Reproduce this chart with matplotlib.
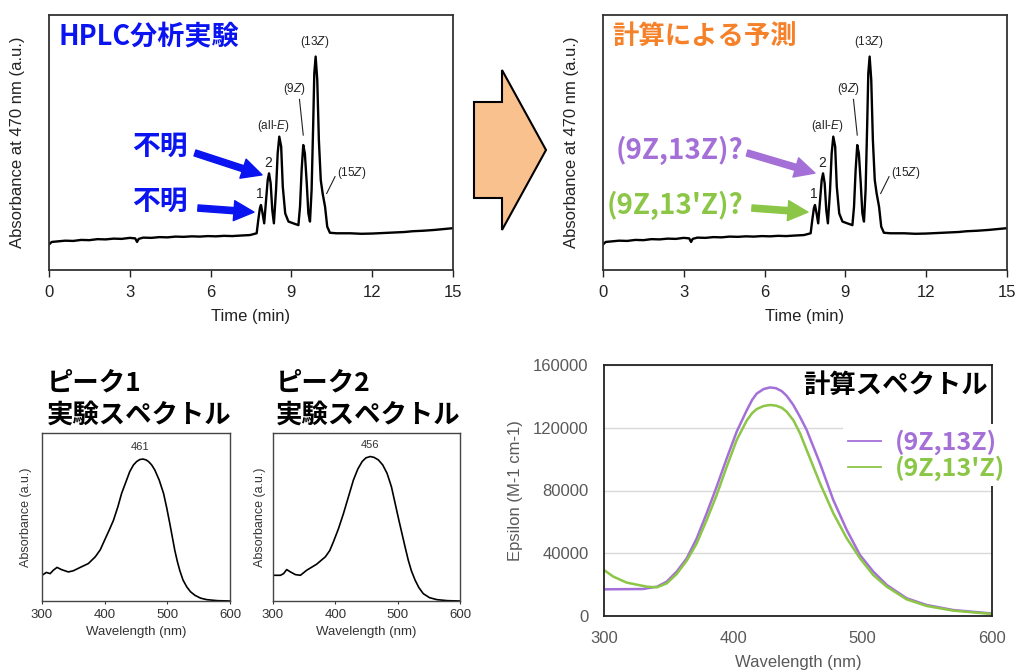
import matplotlib
matplotlib.use("Agg")
import matplotlib.pyplot as plt
from matplotlib.patches import Polygon
from matplotlib.lines import Line2D

plt.rcParams['font.family'] = ['Liberation Sans', 'Noto Sans CJK JP']
plt.rcParams['mathtext.fontset'] = 'custom'
plt.rcParams['mathtext.it'] = 'Liberation Sans:italic'
plt.rcParams['mathtext.rm'] = 'Liberation Sans'

W, H = 1017, 672
JP = ['Noto Sans CJK JP', 'DejaVu Sans']

# ---- HPLC chromatogram (a.u. 0..1 of the axis height) ----
chrom_t = [0.00, 0.10, 0.30, 0.60, 0.90, 1.20, 1.50, 1.80, 2.10, 2.40, 2.70, 3.00,
           3.20, 3.27, 3.33, 3.50, 3.80, 4.10, 4.40, 4.70, 5.00, 5.30, 5.60, 5.90,
           6.20, 6.50, 6.80, 7.10, 7.46, 7.71, 7.77, 7.83, 7.87, 7.93, 7.99,
           8.06, 8.12, 8.17, 8.23, 8.29, 8.35, 8.43, 8.49, 8.55, 8.62, 8.68, 8.77,
           8.89, 9.07, 9.26, 9.32, 9.38, 9.44, 9.50, 9.57, 9.63, 9.69, 9.75, 9.81,
           9.85, 9.90, 9.96, 10.02, 10.09, 10.16, 10.25, 10.33, 10.43, 10.68, 11.18,
           11.6, 12.0, 12.4, 12.8, 13.2, 13.5, 13.9, 14.3, 14.6, 15.0]
chrom_y = [0.100, 0.110, 0.112, 0.115, 0.114, 0.118, 0.117, 0.121, 0.120, 0.123, 0.122, 0.126,
           0.124, 0.110, 0.122, 0.127, 0.126, 0.129, 0.128, 0.131, 0.130, 0.132, 0.131, 0.133,
           0.132, 0.134, 0.133, 0.135, 0.137, 0.144, 0.196, 0.242, 0.255, 0.222, 0.183,
           0.275, 0.353, 0.379, 0.340, 0.235, 0.183, 0.314, 0.457, 0.523, 0.484, 0.327, 0.222,
           0.190, 0.183, 0.176, 0.248, 0.392, 0.490, 0.457, 0.340, 0.222, 0.190, 0.314, 0.575,
           0.771, 0.837, 0.745, 0.510, 0.353, 0.300, 0.248, 0.170, 0.146, 0.144, 0.144,
           0.142, 0.143, 0.145, 0.147, 0.149, 0.152, 0.154, 0.157, 0.160, 0.164]

# peak tags: (text, t, y)
peak_tags = [("(all-$\\it{E}$)", 8.33, 0.565), ("(9$\\it{Z}$)", 9.13, 0.709),
             ("(13$\\it{Z}$)", 9.88, 0.895), ("(15$\\it{Z}$)", 11.25, 0.38)]
peak_nums = [("1", 7.83, 0.298), ("2", 8.14, 0.418)]

# ---- experimental spectra of peaks 1 and 2 ----
spec1_wl = [300, 307, 313, 318, 324, 331, 342, 350, 361, 374, 385, 393, 400, 407, 414, 421,
            427, 434, 440, 446, 451, 456, 461, 466, 470, 475, 480, 487, 494, 499, 504, 508,
            512, 516, 520, 525, 531, 537, 544, 553, 563, 580, 600]
spec1_ab = [0.153, 0.170, 0.163, 0.183, 0.200, 0.187, 0.173, 0.180, 0.200, 0.223, 0.263,
            0.305, 0.363, 0.420, 0.480, 0.560, 0.640, 0.710, 0.770, 0.810, 0.830, 0.842,
            0.845, 0.840, 0.830, 0.810, 0.780, 0.720, 0.640, 0.555, 0.460, 0.380, 0.300,
            0.235, 0.180, 0.125, 0.084, 0.055, 0.034, 0.017, 0.008, 0.002, 0.000]
spec2_wl = [300, 312, 317, 322, 328, 336, 344, 354, 370, 384, 391, 397, 405, 413, 421, 429,
            436, 443, 449, 456, 462, 469, 476, 483, 490, 496, 502, 507, 512, 517, 522, 528,
            534, 541, 551, 563, 580, 600]
spec2_ab = [0.153, 0.153, 0.163, 0.187, 0.173, 0.157, 0.153, 0.183, 0.219, 0.263, 0.300,
            0.353, 0.430, 0.520, 0.620, 0.720, 0.785, 0.830, 0.852, 0.860, 0.855, 0.840,
            0.810, 0.760, 0.680, 0.580, 0.480, 0.400, 0.320, 0.243, 0.180, 0.124, 0.080,
            0.044, 0.020, 0.008, 0.002, 0.000]

# ---- calculated spectra (epsilon, M-1 cm-1) ----
calc_a_wl = [300, 330, 341, 348.5, 356.2, 364, 371.7, 379.4, 387.1, 394.9, 402.6, 410.3,
             414.5, 418.1, 423.5, 428.5, 433, 437.5, 441.3, 446.4, 451.5, 456.7, 467, 477.3,
             487.7, 497.9, 508.2, 518.6, 534, 549.5, 570.1, 600]
calc_a_eps = [17000, 17200, 18700, 21900, 28300, 36800, 49500, 65500, 82400, 100500, 117500,
              131000, 137700, 141800, 144700, 145700, 145200, 143300, 140300, 134500, 127000,
              118600, 97300, 73900, 54800, 38900, 28300, 19800, 11300, 7000, 3800, 1600]
calc_b_wl = [300, 307.2, 317.5, 333, 341, 348.5, 356.2, 364, 371.7, 379.4, 387.1, 394.9,
             402.6, 410.3, 414.5, 418.1, 423.5, 428.5, 433, 437.5, 441.3, 446.4, 451.5,
             456.7, 467, 477.3, 487.7, 497.9, 508.2, 518.6, 534, 549.5, 570.1, 600]
calc_b_eps = [29300, 25100, 21300, 18700, 18300, 20800, 26800, 35300, 46300, 61200, 77100,
              95200, 112200, 124500, 129300, 131900, 133900, 134500, 134100, 132700, 130200,
              124800, 116600, 105800, 84600, 65500, 49500, 36800, 26100, 18700, 10600, 6400,
              3400, 1300]
calc_labels = ["(9Z,13Z)", "(9Z,13'Z)"]

BLUE = '#0A14F0'
ORANGE = '#F5822A'
PURPLE = '#A470D8'
GREEN = '#8CC646'
PEACH = '#F9C18E'

fig = plt.figure(figsize=(W / 100, H / 100), dpi=100)


def px_axes(l, t, r, b):
    return fig.add_axes([l / W, 1 - b / H, (r - l) / W, (b - t) / H])


def draw_chrom(ax):
    ax.plot(chrom_t, chrom_y, color='black', lw=1.7)
    ax.set_xlim(0, 15)
    ax.set_ylim(0, 1)
    ax.set_xticks([0, 3, 6, 9, 12, 15])
    ax.set_yticks([])
    ax.tick_params(axis='x', direction='out', length=5, width=1, labelsize=12,
                   colors='#222222', pad=6)
    for s in ax.spines.values():
        s.set_linewidth(1.3)
        s.set_color('#333333')
    ax.set_xlabel("Time (min)", fontsize=12, color='#222222', labelpad=6)
    ax.set_ylabel("Absorbance at 470 nm (a.u.)", fontsize=12, color='#222222', va='center')
    ax.yaxis.set_label_coords(-0.077, 0.5)
    for txt, t, y in peak_tags:
        ax.text(t, y, txt, fontsize=8.5, ha='center', va='center', color='#222222')
    for txt, t, y in peak_nums:
        ax.text(t, y, txt, fontsize=10, ha='center', va='center', color='#222222')
    ax.plot([9.30, 9.44], [0.669, 0.529], color='#222222', lw=0.8)
    ax.plot([10.62, 10.31], [0.366, 0.30], color='#222222', lw=0.8)


def arrow(ax, start, end, color):
    ax.annotate("", xy=end, xytext=start,
                arrowprops=dict(arrowstyle="simple,head_length=0.9,head_width=0.9,tail_width=0.28",
                                color=color, shrinkA=0, shrinkB=0, mutation_scale=16))


# top-left: HPLC
ax1 = px_axes(49, 15, 453, 270)
draw_chrom(ax1)
ax1.text(0.37, 0.914, "HPLC分析実験", fontsize=19.5, fontweight='bold', color=BLUE,
         family=JP, ha='left', va='center')
for y in (0.482, 0.267):
    ax1.text(4.12, y, "不明", fontsize=20, fontweight='bold', color=BLUE, family=JP,
             ha='center', va='center')
arrow(ax1, (5.42, 0.459), (7.91, 0.373), BLUE)
arrow(ax1, (5.53, 0.243), (7.61, 0.227), BLUE)

# top-right: prediction
ax2 = px_axes(603, 15, 1007, 270)
draw_chrom(ax2)
ax2.text(0.33, 0.914, "計算による予測", fontsize=19, fontweight='bold', color=ORANGE,
         family=JP, ha='left', va='center')
ax2.text(5.2, 0.47, "(9Z,13Z)?", fontsize=20, fontweight='bold', color=PURPLE, family=JP,
         ha='right', va='center')
ax2.text(5.2, 0.255, "(9Z,13'Z)?", fontsize=20, fontweight='bold', color=GREEN, family=JP,
         ha='right', va='center')
arrow(ax2, (5.35, 0.459), (7.87, 0.38), PURPLE)
arrow(ax2, (5.53, 0.243), (7.61, 0.227), GREEN)

# block arrow between the two chromatograms
block = Polygon([(474, 102), (502, 102), (502, 70), (546, 150), (502, 230), (502, 198),
                 (474, 198)], closed=True)
block.set_xy([(x / W, 1 - y / H) for x, y in block.get_xy()])
block.set_transform(fig.transFigure)
block.set_facecolor(PEACH)
block.set_edgecolor('black')
block.set_linewidth(1.5)
fig.patches.append(block)


def draw_spec(ax, wl, ab, peak_txt, peak_x, peak_y):
    ax.plot(wl, ab, color='black', lw=1.2)
    ax.set_xlim(300, 600)
    ax.set_ylim(0, 1)
    ax.set_xticks([300, 400, 500, 600])
    ax.set_yticks([])
    ax.tick_params(axis='x', length=2, labelsize=9.5, colors='#333333', pad=4)
    for s in ax.spines.values():
        s.set_linewidth(1.0)
        s.set_color('#444444')
    ax.set_xlabel("Wavelength (nm)", fontsize=9.5, color='#333333', labelpad=3)
    ax.set_ylabel("Absorbance (a.u.)", fontsize=9, color='#333333', va='center')
    ax.text(peak_x, peak_y, peak_txt, fontsize=8, ha='center', va='center', color='#333333')


ax3 = px_axes(42, 433, 230, 601)
draw_spec(ax3, spec1_wl, spec1_ab, "461", 456, 0.917)
ax3.yaxis.set_label_coords(-0.085, 0.5)
ax4 = px_axes(273, 433, 460, 601)
draw_spec(ax4, spec2_wl, spec2_ab, "456", 456, 0.93)
ax4.yaxis.set_label_coords(-0.07, 0.5)

for x0, n in ((47, "1"), (276, "2")):
    fig.text(x0 / W, 1 - 383 / H, "ピーク" + n, fontsize=19, fontweight='bold', family=JP,
             ha='left', va='center')
    fig.text(x0 / W, 1 - 415 / H, "実験スペクトル", fontsize=19, fontweight='bold', family=JP,
             ha='left', va='center')

# bottom-right: calculated spectra
ax5 = px_axes(604, 365, 992, 616)
ax5.plot(calc_a_wl, calc_a_eps, color=PURPLE, lw=1.8)
ax5.plot(calc_b_wl, calc_b_eps, color=GREEN, lw=1.8)
ax5.set_xlim(300, 600)
ax5.set_ylim(0, 160000)
ax5.set_xticks([300, 400, 500, 600])
ax5.set_yticks([0, 40000, 80000, 120000, 160000])
ax5.yaxis.grid(True, color='#D9D9D9', lw=1)
ax5.set_axisbelow(True)
ax5.tick_params(length=0, labelsize=12, colors='#595959', pad=11)
for s in ax5.spines.values():
    s.set_linewidth(1.3)
    s.set_color('#222222')
ax5.set_xlabel("Wavelength (nm)", fontsize=12, color='#595959', labelpad=6)
ax5.set_ylabel("Epsilon (M-1 cm-1)", fontsize=12, color='#595959', va='center')
ax5.yaxis.set_label_coords(-0.228, 0.5)
ax5.text(0.99, 0.92, "計算スペクトル", transform=ax5.transAxes, fontsize=19,
         fontweight='bold', family=JP, ha='right', va='center')
h1 = Line2D([], [], color=PURPLE, lw=1.3)
h2 = Line2D([], [], color=GREEN, lw=1.3)
leg = ax5.legend([h1, h2], calc_labels, loc='upper left', bbox_to_anchor=(0.585, 0.815),
                 frameon=True, facecolor='white', edgecolor='none', framealpha=1,
                 handlelength=1.3, handletextpad=0.55, labelspacing=0.05, borderpad=0.2,
                 prop=dict(family=JP, weight='bold', size=18))
leg.get_frame().set_boxstyle('square', pad=0)
for txt, c in zip(leg.get_texts(), (PURPLE, GREEN)):
    txt.set_color(c)

fig.savefig("out.png", dpi=100)
